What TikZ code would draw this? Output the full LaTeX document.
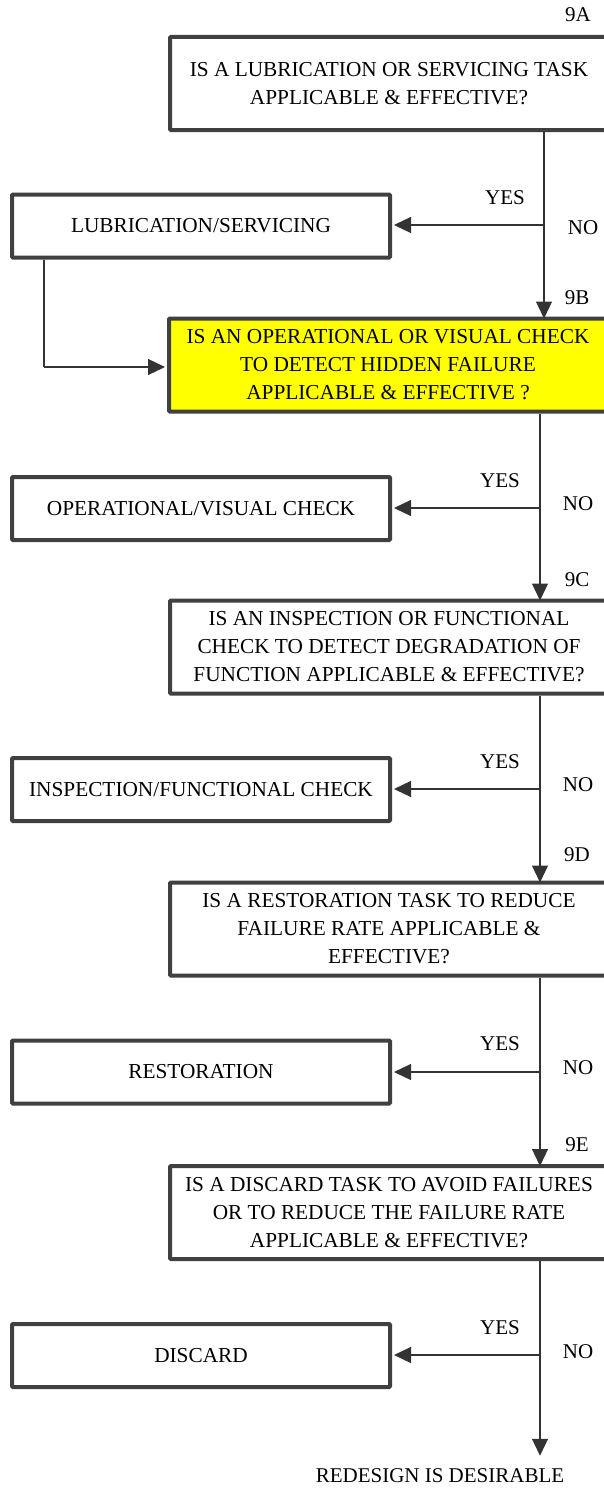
\documentclass[tikz,border=0pt]{standalone}
\usepackage{fontspec}
\setmainfont{Liberation Serif}
\usetikzlibrary{arrows.meta}
\definecolor{boxline}{HTML}{404040}
\definecolor{qyellow}{HTML}{FFFF00}
\tikzset{
  qbox/.style={draw=boxline, line width=4pt, rounded corners=1pt, fill=white,
    minimum width=438pt, minimum height=93pt, align=center, inner sep=0pt,
    font=\fontsize{21.3}{28}\selectfont},
  tbox/.style={draw=boxline, line width=4pt, rounded corners=1pt, fill=white,
    minimum width=378pt, minimum height=63pt, align=center, inner sep=0pt,
    font=\fontsize{21.3}{28}\selectfont},
  lbl/.style={font=\fontsize{21}{24}\selectfont, inner sep=0pt},
  conn/.style={line width=1.2pt, draw=black!80},
  arr/.style={conn, -{Triangle[length=17pt,width=16pt]}},
}
\begin{document}
\begin{tikzpicture}[x=1pt,y=-1pt]
\useasboundingbox (0,0) rectangle (604,1488);
\clip (0,0) rectangle (604,1488);
% question boxes
\node[qbox] (q9a) at (389,83.5) {IS A LUBRICATION OR SERVICING TASK\\APPLICABLE \& EFFECTIVE?};
\node[qbox, fill=qyellow] (q9b) at (388,365) {IS AN OPERATIONAL OR VISUAL CHECK\\TO DETECT HIDDEN FAILURE\\APPLICABLE \& EFFECTIVE ?};
\node[qbox] (q9c) at (389,647) {IS AN INSPECTION OR FUNCTIONAL\\CHECK TO DETECT DEGRADATION OF\\FUNCTION APPLICABLE \& EFFECTIVE?};
\node[qbox] (q9d) at (389,929) {IS A RESTORATION TASK TO REDUCE\\FAILURE RATE APPLICABLE \&\\EFFECTIVE?};
\node[qbox] (q9e) at (389,1212.5) {IS A DISCARD TASK TO AVOID FAILURES\\OR TO REDUCE THE FAILURE RATE\\APPLICABLE \& EFFECTIVE?};
% task boxes
\node[tbox] (lub) at (201,226) {LUBRICATION/SERVICING};
\node[tbox] (opv) at (201,508.5) {OPERATIONAL/VISUAL CHECK};
\node[tbox] (insp) at (201,789.5) {INSPECTION/FUNCTIONAL CHECK};
\node[tbox] (rest) at (201,1072) {RESTORATION};
\node[tbox] (disc) at (201,1355.5) {DISCARD};
% step labels
\node[lbl] (l9a) at (578,15) {9A};
\node[lbl] (l9b) at (577,298) {9B};
\node[lbl] (l9c) at (577,580) {9C};
\node[lbl] (l9d) at (577,855) {9D};
\node[lbl] (l9e) at (577,1145) {9E};
% yes/no labels
\node[lbl] (y1) at (505,198) {YES};
\node[lbl] (n1) at (583,228) {NO};
\node[lbl] (y2) at (500,481) {YES};
\node[lbl] (n2) at (578,504) {NO};
\node[lbl] (y3) at (500,762) {YES};
\node[lbl] (n3) at (578,785) {NO};
\node[lbl] (y4) at (500,1044) {YES};
\node[lbl] (n4) at (578,1068) {NO};
\node[lbl] (y5) at (500,1328) {YES};
\node[lbl] (n5) at (578,1352) {NO};
\node[lbl] (redesign) at (440,1476) {REDESIGN IS DESIRABLE};
% junctions
\coordinate (j1) at (544,225);
\coordinate (j2) at (540,508);
\coordinate (j3) at (540,789);
\coordinate (j4) at (540,1072);
\coordinate (j5) at (540,1355);
\coordinate (k1) at (44,367);
% connectors
\draw[conn] (q9a.south -| j1) -- (j1);
\draw[arr] (j1) -- ([xshift=2pt]lub.east |- j1);
\draw[arr] (j1) -- ([yshift=-2pt]q9b.north -| j1);
\draw[conn] (lub.south -| k1) -- (k1);
\draw[arr] (k1) -- ([xshift=-2pt]q9b.west |- k1);
\draw[conn] (q9b.south -| j2) -- (j2);
\draw[arr] (j2) -- ([xshift=2pt]opv.east |- j2);
\draw[arr] (j2) -- ([yshift=-2pt]q9c.north -| j2);
\draw[conn] (q9c.south -| j3) -- (j3);
\draw[arr] (j3) -- ([xshift=2pt]insp.east |- j3);
\draw[arr] (j3) -- ([yshift=-2pt]q9d.north -| j3);
\draw[conn] (q9d.south -| j4) -- (j4);
\draw[arr] (j4) -- ([xshift=2pt]rest.east |- j4);
\draw[arr] (j4) -- ([yshift=-2pt]q9e.north -| j4);
\draw[conn] (q9e.south -| j5) -- (j5);
\draw[arr] (j5) -- ([xshift=2pt]disc.east |- j5);
\draw[arr, shorten >=13pt] (j5) -- (redesign.north -| j5);
\end{tikzpicture}
\end{document}
